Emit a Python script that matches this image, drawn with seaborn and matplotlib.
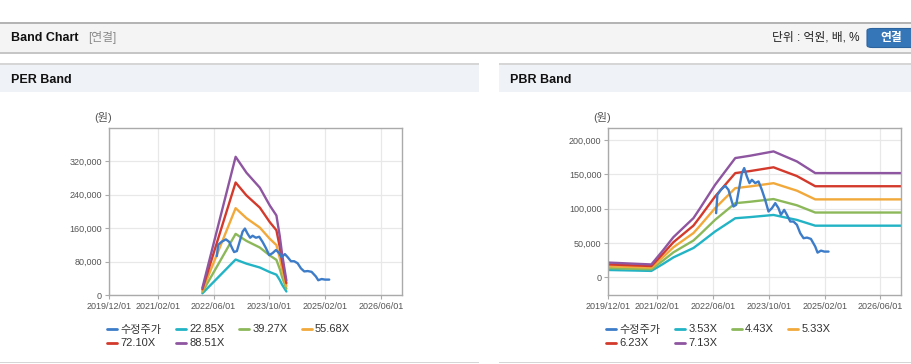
import matplotlib
matplotlib.use('Agg')
import pandas as pd
import matplotlib.pyplot as plt
import seaborn as sns
from matplotlib.lines import Line2D
from matplotlib.patches import Rectangle, FancyBboxPatch

W, H = 912, 364

# 수정주가 (adjusted price)
price_dates = ['2022-06-29', '2022-07-10', '2022-08-09', '2022-09-16', '2022-10-15', '2022-11-13',
               '2022-11-27', '2022-12-21', '2023-01-19', '2023-02-09', '2023-03-01', '2023-03-24',
               '2023-04-16', '2023-05-07', '2023-06-05', '2023-07-04', '2023-08-02', '2023-08-31',
               '2023-09-29', '2023-10-29', '2023-11-27', '2023-12-25', '2024-01-15', '2024-02-13',
               '2024-03-08', '2024-04-06', '2024-05-04', '2024-06-03', '2024-07-02', '2024-07-31',
               '2024-08-30', '2024-10-03', '2024-11-10', '2024-11-30', '2024-12-30', '2025-01-28',
               '2025-03-06']
price_values = [93400, 120100, 127400, 133300, 127400, 110400,
                103100, 105500, 132300, 151800, 159100, 146900,
                137200, 142000, 137200, 139600, 127400, 112800,
                95800, 100700, 108000, 100700, 91000, 98200,
                91000, 81200, 81200, 76400, 64200, 56900,
                57800, 55900, 44700, 35900, 38800, 37400,
                37400]

# EPS for PER band
per_dates = ['2022-02-23', '2022-12-10', '2023-03-15', '2023-07-09', '2023-10-04',
             '2023-12-01', '2023-12-30', '2024-01-20', '2024-02-26']
per_eps = [200, 3730, 3300, 2900, 2420, 2150, 1600, 1100, 400]
per_multiples = [22.85, 39.27, 55.68, 72.10, 88.51]

# BPS for PBR band
pbr_dates = ['2019-12-01', '2020-12-11', '2021-03-26', '2021-06-21', '2021-12-13', '2022-02-09',
             '2022-06-20', '2022-12-13', '2023-04-22', '2023-11-12', '2024-02-07', '2024-06-03',
             '2024-11-10', '2026-12-01']
pbr_bps = [3000, 2620, 5600, 8190, 12080, 14120, 18890, 24360, 24840, 25720, 24840, 23670,
           21290, 21290]
pbr_multiples = [3.53, 4.43, 5.33, 6.23, 7.13]

x_ticks = ['2019/12/01', '2021/02/01', '2022/06/01', '2023/10/01', '2025/02/01', '2026/06/01']
per_yticks = [0, 80000, 160000, 240000, 320000]
pbr_yticks = [0, 50000, 100000, 150000, 200000]

band_colors = ['#22b3c5', '#8cb85a', '#f2a93b', '#d33a2c', '#8e55a0']
price_color = '#3d7cc9'

sns.set_theme(style='white')
plt.rcParams['font.family'] = ['Liberation Sans', 'Noto Sans CJK KR']

fig = plt.figure(figsize=(W / 100, H / 100), dpi=100)


def fx(x):
    return x / W


def fy(y):
    return 1 - y / H


def rect(x0, y0, x1, y1, color):
    fig.add_artist(Rectangle((fx(x0), fy(y1)), fx(x1) - fx(x0), fy(y0) - fy(y1),
                             transform=fig.transFigure, facecolor=color, edgecolor='none', zorder=0))


# page header
rect(0, 22, W, 23.5, '#b4b4b4')
rect(0, 23.5, W, 52, '#f4f4f4')
rect(0, 52, W, 53.5, '#c6c6c6')
fig.text(fx(11), fy(38), 'Band Chart', fontsize=9, fontweight='bold', color='#111111', va='center')
fig.text(fx(88), fy(38), '[연결]', fontsize=8.5, color='#8a8a8a', va='center')
fig.text(fx(860), fy(38), '단위 : 억원, 배, %', fontsize=8.5, color='#222222', va='center', ha='right')
fig.add_artist(FancyBboxPatch((fx(867), fy(47.5)), fx(60), fy(0) - fy(19),
                              boxstyle='round,pad=0,rounding_size=0.006', transform=fig.transFigure,
                              facecolor='#3576b8', edgecolor='#2c64a0', lw=0.8, zorder=1))
fig.text(fx(891), fy(38), '연결', fontsize=8.5, fontweight='bold', color='white', va='center', ha='center',
         zorder=2)

# panel headers
for x0, x1, title in [(0, 479, 'PER Band'), (499, W, 'PBR Band')]:
    rect(x0, 63, x1, 64.5, '#d6d6d6')
    rect(x0, 64.5, x1, 92, '#eff2f7')
    rect(x0, 361.5, x1, 363, '#d6d6d6')
    fig.text(fx(x0 + 11), fy(80), title, fontsize=9, fontweight='bold', color='#111111', va='center')


def band_frame(dates, base, multiples):
    rows = []
    for m in multiples:
        for d, b in zip(dates, base):
            rows.append({'date': pd.Timestamp(d), 'value': b * m, 'band': f'{m:.2f}X'})
    return pd.DataFrame(rows)


price_df = pd.DataFrame({'date': pd.to_datetime(price_dates), 'value': price_values})


def draw_panel(left, df, multiples, yticks, ylim, legend_x):
    ax = fig.add_axes([fx(left), fy(295.3), fx(293), fy(128) - fy(295.3)])
    sns.lineplot(data=df, x='date', y='value', hue='band', palette=band_colors, lw=1.7,
                 legend=False, ax=ax)
    sns.lineplot(data=price_df, x='date', y='value', color=price_color, lw=1.7, ax=ax)

    ax.set_xlim(pd.Timestamp('2019-12-01'), pd.Timestamp('2026-12-01'))
    ax.set_ylim(*ylim)
    ax.set_xticks(pd.to_datetime(x_ticks))
    ax.set_xticklabels(x_ticks)
    ax.set_yticks(yticks)
    ax.set_yticklabels([f'{v:,}' for v in yticks])
    ax.set_xlabel('')
    ax.set_ylabel('')
    ax.grid(True, color='#e8e8e8', lw=0.9)
    for s in ax.spines.values():
        s.set_color('#aaaaaa')
        s.set_linewidth(1)
    ax.tick_params(axis='both', length=3, width=0.8, color='#aaaaaa', labelsize=6.5,
                   labelcolor='#555555', pad=2)
    ax.tick_params(axis='x', bottom=True, pad=1.5)
    ax.tick_params(axis='y', left=True)

    fig.text(fx(left - 6), fy(118), '(원)', fontsize=8, color='#555555', ha='center', va='center')

    labels = ['수정주가'] + [f'{m:.2f}X' for m in multiples]
    colors = [price_color] + band_colors
    handles = [Line2D([], [], color=c, lw=2) for c in colors]
    order = [0, 4, 1, 5, 2, 3]
    ax.legend([handles[i] for i in order], [labels[i] for i in order], ncol=4, loc='upper left',
              bbox_to_anchor=(fx(legend_x), fy(324.5)), bbox_transform=fig.transFigure, frameon=False,
              fontsize=8, handlelength=0.9, handletextpad=0.3, columnspacing=1.3, labelspacing=0.35,
              borderpad=0, borderaxespad=0, labelcolor='#333333')
    return ax


draw_panel(109, band_frame(per_dates, per_eps, per_multiples), per_multiples, per_yticks,
           (0, 398800), 107)
draw_panel(608.3, band_frame(pbr_dates, pbr_bps, pbr_multiples), pbr_multiples, pbr_yticks,
           (-26300, 217500), 606)

fig.savefig('out.png', dpi=100)
